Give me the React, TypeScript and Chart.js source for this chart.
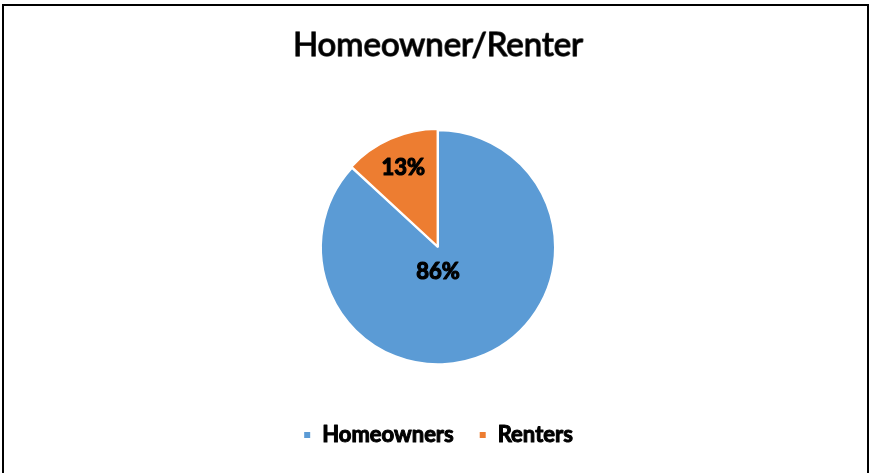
import React, { useEffect, useRef } from "react";
import { Chart, registerables } from "chart.js";

Chart.register(...registerables);

const categories = ["Homeowners", "Renters"];
const shares = [86, 13];
const sliceColors = ["#5B9BD5", "#ED7D31"];
const titleText = "Homeowner/Renter";
// label placement: fraction of radius and angular adjustment (radians)
const labelRadius = [0.21, 0.74];
const labelAngleShift = [0.41, 0];

const heavyText = {
  id: "heavyText",
  afterDraw(chart: any) {
    const ctx = chart.ctx;
    ctx.save();
    ctx.lineJoin = "round";
    // slice labels
    const meta = chart.getDatasetMeta(0);
    const data = chart.data.datasets[0].data as number[];
    ctx.font = "bold 22px Lato";
    ctx.fillStyle = "#000";
    ctx.strokeStyle = "#000";
    ctx.lineWidth = 1.2;
    ctx.textAlign = "center";
    ctx.textBaseline = "middle";
    meta.data.forEach((arc: any, i: number) => {
      const p = arc.getProps(["x", "y", "startAngle", "endAngle", "outerRadius"], true);
      const mid = (p.startAngle + p.endAngle) / 2 + labelAngleShift[i];
      const r = p.outerRadius * labelRadius[i];
      const tx = p.x + Math.cos(mid) * r;
      const ty = p.y + Math.sin(mid) * r;
      ctx.strokeText(data[i] + "%", tx, ty);
      ctx.fillText(data[i] + "%", tx, ty);
    });
    // title
    const tb = chart.titleBlock;
    if (tb) {
      ctx.font = "normal 33px Lato";
      ctx.strokeStyle = "rgba(30,30,30,0.9)";
      ctx.lineWidth = 1.5;
      const ty = tb.top + tb.options.padding.top + (33 * 1.2) / 2;
      const tx = (tb.left + tb.right) / 2;
      ctx.strokeText(titleText, tx, ty);
      ctx.fillText(titleText, tx, ty);
    }
    // legend text
    const lg = chart.legend;
    if (lg && lg.legendHitBoxes) {
      ctx.font = "bold 22px Lato";
      ctx.textAlign = "left";
      ctx.strokeStyle = "#000";
      ctx.lineWidth = 1;
      lg.legendItems.forEach((item: any, i: number) => {
        const hb = lg.legendHitBoxes[i];
        const x = hb.left + 8 + 22 / 2;
        const y = hb.top + hb.height / 2;
        ctx.strokeText(item.text, x, y);
        ctx.fillText(item.text, x, y);
      });
    }
    ctx.restore();
  },
};

export default function App() {
  const ref = useRef<HTMLCanvasElement | null>(null);
  useEffect(() => {
    if (!ref.current) return;
    const chart = new Chart(ref.current, {
      type: "pie",
      data: {
        labels: categories,
        datasets: [
          {
            data: shares,
            backgroundColor: sliceColors,
            borderColor: "#ffffff",
            borderWidth: 2,
            offset: [0, 4],
            radius: 117,
          } as any,
        ],
      },
      options: {
        responsive: false,
        animation: false,
        layout: { padding: { left: 5, right: 0, top: 0, bottom: 17 } },
        plugins: {
          title: {
            display: true,
            text: titleText,
            color: "rgba(0,0,0,0)",
            font: { family: "Lato", size: 33, weight: "normal" },
            padding: { top: 26, bottom: 30 },
          },
          legend: {
            position: "bottom",
            labels: {
              color: "rgba(0,0,0,0)",
              font: { family: "Lato", size: 22, weight: "bold" },
              boxWidth: 8,
              boxHeight: 8,
              padding: 25,
            },
          },
          tooltip: { enabled: false },
        },
      },
      plugins: [heavyText],
    });
    return () => chart.destroy();
  }, []);
  return (
    <div style={{ position: "fixed", left: 0, top: 0, width: 871, height: 473, background: "#fff", overflow: "hidden" }}>
      <canvas ref={ref} width={871} height={473} style={{ position: "absolute", left: 0, top: 0 }} />
      <div
        style={{
          position: "absolute",
          left: 2,
          top: 4,
          width: 867,
          height: 520,
          boxSizing: "border-box",
          border: "2px solid #000",
          pointerEvents: "none",
        }}
      />
    </div>
  );
}
